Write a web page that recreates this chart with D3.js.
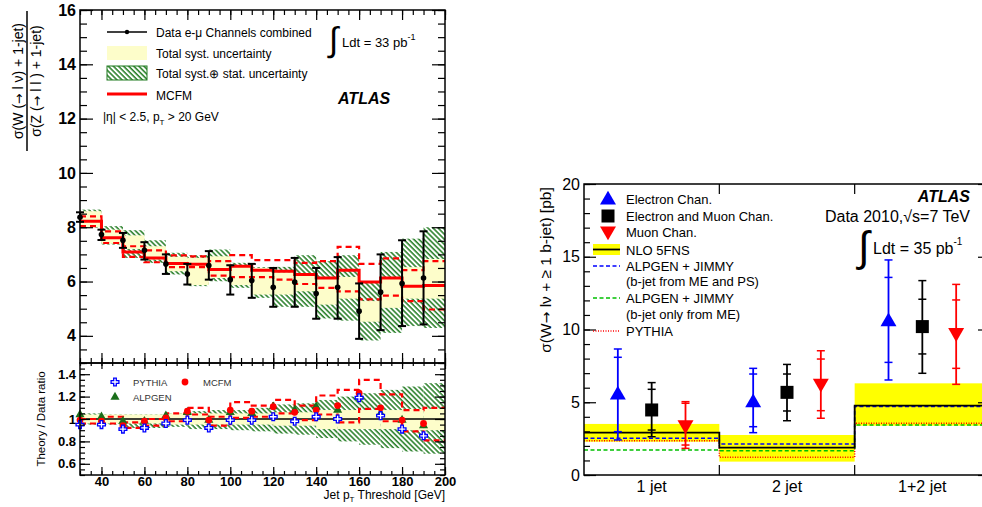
<!DOCTYPE html>
<html>
<head>
<meta charset="utf-8">
<script src="https://cdn.jsdelivr.net/npm/d3@7"></script>
<style>
  body { margin: 0; background: #fff; }
  text { font-family: "Liberation Sans", Arial, Helvetica, sans-serif; }
</style>
</head>
<body>
<svg id="chart" width="982" height="507"></svg>
<script>
// ---------- left panel : W/Z ratio vs jet pT threshold ----------
var thresholds = [30,40,50,60,70,80,90,100,110,120,130,140,150,160,170,180,190];
var dataVal  = [8.37,7.73,7.52,7.15,6.65,6.28,6.59,6.07,6.04,5.79,5.98,5.56,5.79,4.91,5.61,5.93,6.13];
var dataHi   = [8.55,7.91,7.79,7.45,7.00,6.65,7.12,6.60,6.65,6.50,6.87,6.50,6.90,5.93,7.00,7.52,7.85];
var dataLo   = [8.20,7.53,7.24,6.81,6.28,5.89,6.07,5.52,5.40,5.07,5.07,4.63,4.63,3.89,4.21,4.36,4.42];
var mcfm     = [8.22,7.61,7.09,6.87,6.66,6.64,6.44,6.56,6.42,6.38,6.26,6.13,6.42,5.98,6.13,5.83,5.85];
var mcfmUp   = [8.40,7.85,7.30,7.15,6.96,6.93,6.75,6.97,6.79,6.79,6.69,6.75,7.28,6.65,6.85,6.42,6.75];
var mcfmDn   = [8.04,7.42,6.91,6.71,6.53,6.53,6.22,6.16,6.16,6.07,5.91,5.77,5.64,5.34,5.48,5.28,4.97];
var sysHi    = [8.59,7.91,7.70,7.30,6.91,6.87,6.93,6.56,6.50,6.34,6.26,6.17,6.17,5.28,6.11,6.53,6.83];
var sysLo    = [8.00,7.39,7.20,6.81,6.38,5.87,6.13,5.87,5.52,5.52,5.64,5.15,5.37,4.52,5.03,5.37,5.37];
var totHi    = [8.65,8.04,7.89,7.52,7.06,6.97,7.18,6.69,6.53,6.54,6.97,6.75,6.97,5.95,7.09,7.58,8.00];
var totLo    = [7.98,7.36,6.87,6.69,6.26,5.83,6.01,5.77,5.40,5.07,5.07,4.64,4.56,3.83,4.11,4.36,4.29];

// ratio pad
var ratioPythia = [0.95,0.95,0.91,0.92,0.96,0.99,0.92,0.99,0.99,1.02,0.98,1.02,1.00,1.19,1.03,0.91,0.85];
var ratioMcfm   = [0.99,0.98,0.94,0.98,1.01,1.07,0.99,1.08,1.07,1.11,1.06,1.08,1.12,1.23,1.10,0.99,0.96];
var ratioAlpgen = [1.04,1.02,0.98,0.98,1.03,1.06,0.99,1.06,1.05,1.11,1.08,1.11,1.08,1.20,1.05,0.99,0.94];
var ratioMcfmUp = [1.00,1.02,0.97,1.00,1.05,1.10,1.02,1.15,1.12,1.17,1.12,1.21,1.26,1.35,1.22,1.08,1.10];
var ratioMcfmDn = [0.96,0.96,0.92,0.94,0.98,1.04,0.94,1.01,1.02,1.05,0.99,1.04,0.97,1.09,0.98,0.89,0.81];
var ratioTotHi  = [1.05,1.04,1.04,1.04,1.05,1.07,1.08,1.08,1.10,1.13,1.14,1.17,1.20,1.23,1.26,1.29,1.32];
var ratioTotLo  = [0.95,0.95,0.92,0.92,0.93,0.91,0.91,0.90,0.89,0.87,0.86,0.83,0.80,0.77,0.74,0.71,0.69];
var ratioSysHi  = [1.04,1.04,1.04,1.04,1.05,1.05,1.05,1.05,1.05,1.06,1.06,1.08,1.08,1.08,1.08,1.09,1.09];
var ratioSysLo  = [0.96,0.96,0.96,0.96,0.95,0.95,0.95,0.95,0.95,0.94,0.94,0.91,0.91,0.91,0.91,0.90,0.90];

var binWidth = 10;
var xTickLabels = [40,60,80,100,120,140,160,180,200];
var yTopLabels = [4,6,8,10,12,14,16];
var yRatioLabels = [0.6,0.8,1.0,1.2,1.4];

// ---------- right panel : W + b-jet cross section ----------
var cats = ['1 jet','2 jet','1+2 jet'];
var elVal = [5.50,4.97,10.54], elStatHi = [8.09,6.94,13.58], elStatLo = [2.98,3.32,7.74], elTotHi = [8.66,7.33,14.78], elTotLo = [2.41,2.91,6.53];
var coVal = [4.47,5.68,10.20], coStatHi = [5.89,6.94,12.08], coStatLo = [3.09,4.40,8.32], coTotHi = [6.35,7.60,13.36], coTotLo = [2.63,3.73,6.99];
var muVal = [3.44,6.30,9.78],  muStatHi = [4.93,7.97,12.03], muStatLo = [2.06,4.42,7.33], muTotHi = [5.04,8.54,13.10], muTotLo = [1.83,3.90,6.23];
var nlo = [2.91,1.88,4.77], nloHi = [3.51,2.75,6.30], nloLo = [2.29,0.92,3.39];
var alpMEPS = [2.52,2.13,4.70];
var alpME = [1.72,1.67,3.44];
var pythia = [2.36,1.22,3.55];
var yRightLabels = [0,5,10,15,20];

/*************************************************************************/

var svg = d3.select('#chart');
var defs = svg.append('defs');
var pat = defs.append('pattern').attr('id','hatch').attr('patternUnits','userSpaceOnUse')
    .attr('width',3.6).attr('height',3.6).attr('patternTransform','rotate(-45)');
pat.append('rect').attr('width',3.6).attr('height',3.6).attr('fill','#fff');
pat.append('line').attr('x1',1).attr('y1',-1).attr('x2',1).attr('y2',5).attr('stroke','#1f7a1f').attr('stroke-width',1.5);

var x = d3.scaleLinear().domain([30,200]).range([80,445]);
var yTop = d3.scaleLinear().domain([3,16]).range([363,10]);
var yRat = d3.scaleLinear().domain([0.5,1.5]).range([475,363]);

defs.append('clipPath').attr('id','clipTop').append('rect').attr('x',80).attr('y',10).attr('width',365).attr('height',353);
defs.append('clipPath').attr('id','clipRat').append('rect').attr('x',80).attr('y',363).attr('width',365).attr('height',112);

function ticks(axisGen, scale, vals, size, transform, fmt){
    var g = svg.append('g').attr('transform', transform)
        .call(axisGen(scale).tickValues(vals).tickSize(size).tickPadding(4).tickFormat(fmt || (function(){ return ''; })));
    g.select('.domain').remove();
    g.selectAll('line').attr('stroke','#000').attr('stroke-width',1.2);
    return g;
}

function stepPoints(vals, xs, xEnd){
    var pts = vals.map(function(v,i){ return [xs[i], v]; });
    pts.push([xEnd, vals[vals.length-1]]);
    return pts;
}

// text with arrows drawn in a font that has them at full size
function richText(sel, parts){
    parts.forEach(function(p){
        var t = sel.append('tspan').text(p);
        if(p === '→') t.attr('font-family','DejaVu Sans').attr('font-size','0.9em');
    });
}

// ----- top pad -----
var topPad = svg.append('g').attr('clip-path','url(#clipTop)');
topPad.selectAll('.tot').data(thresholds).enter().append('rect')
    .attr('x', function(d){ return x(d); }).attr('width', function(d){ return x(d+binWidth)-x(d); })
    .attr('y', function(d,i){ return yTop(totHi[i]); }).attr('height', function(d,i){ return yTop(totLo[i])-yTop(totHi[i]); })
    .attr('fill','url(#hatch)');
topPad.selectAll('.sys').data(thresholds).enter().append('rect')
    .attr('x', function(d){ return x(d); }).attr('width', function(d){ return x(d+binWidth)-x(d); })
    .attr('y', function(d,i){ return yTop(sysHi[i]); }).attr('height', function(d,i){ return yTop(sysLo[i])-yTop(sysHi[i]); })
    .attr('fill','#fdfdca');

var lineTop = d3.line().x(function(d){ return x(d[0]); }).y(function(d){ return yTop(d[1]); }).curve(d3.curveStepAfter);
[mcfmUp, mcfmDn].forEach(function(arr){
    topPad.append('path').attr('d', lineTop(stepPoints(arr, thresholds, 200)))
        .attr('fill','none').attr('stroke','#ff0000').attr('stroke-width',2.2).attr('stroke-dasharray','6,4');
});
topPad.append('path').attr('d', lineTop(stepPoints(mcfm, thresholds, 200)))
    .attr('fill','none').attr('stroke','#ff0000').attr('stroke-width',3);

var errs = svg.append('g');
thresholds.forEach(function(t,i){
    var cx = x(t);
    errs.append('line').attr('x1',cx).attr('x2',cx).attr('y1',yTop(dataHi[i])).attr('y2',yTop(dataLo[i])).attr('stroke','#000').attr('stroke-width',2);
    [dataHi[i], dataLo[i]].forEach(function(v){
        errs.append('line').attr('x1',cx-4).attr('x2',cx+4).attr('y1',yTop(v)).attr('y2',yTop(v)).attr('stroke','#000').attr('stroke-width',2);
    });
    errs.append('circle').attr('cx',cx).attr('cy',yTop(dataVal[i])).attr('r',2.8).attr('fill','#000');
});

// ----- ratio pad -----
var rat = svg.append('g').attr('clip-path','url(#clipRat)');
rat.selectAll('.tot').data(thresholds).enter().append('rect')
    .attr('x', function(d){ return x(d); }).attr('width', function(d){ return x(d+binWidth)-x(d); })
    .attr('y', function(d,i){ return yRat(ratioTotHi[i]); }).attr('height', function(d,i){ return yRat(ratioTotLo[i])-yRat(ratioTotHi[i]); })
    .attr('fill','url(#hatch)');
rat.selectAll('.sys').data(thresholds).enter().append('rect')
    .attr('x', function(d){ return x(d); }).attr('width', function(d){ return x(d+binWidth)-x(d); })
    .attr('y', function(d,i){ return yRat(ratioSysHi[i]); }).attr('height', function(d,i){ return yRat(ratioSysLo[i])-yRat(ratioSysHi[i]); })
    .attr('fill','#fdfdca');
rat.append('line').attr('x1',x(30)).attr('x2',x(200)).attr('y1',yRat(1)).attr('y2',yRat(1)).attr('stroke','#000').attr('stroke-width',1.5);
var lineRat = d3.line().x(function(d){ return x(d[0]); }).y(function(d){ return yRat(d[1]); }).curve(d3.curveStepAfter);
[ratioMcfmUp, ratioMcfmDn].forEach(function(arr){
    rat.append('path').attr('d', lineRat(stepPoints(arr, thresholds, 200)))
        .attr('fill','none').attr('stroke','#ff0000').attr('stroke-width',2.2).attr('stroke-dasharray','6,4');
});

var marks = svg.append('g');
var crossSym = d3.symbol(d3.symbolCross, 34)();
var triSym = d3.symbol(d3.symbolTriangle, 36)();
thresholds.forEach(function(t,i){
    marks.append('path').attr('d', triSym)
        .attr('transform','translate(' + x(t) + ',' + yRat(ratioAlpgen[i]) + ')').attr('fill','#1a6e1a');
    marks.append('circle').attr('cx',x(t)).attr('cy',yRat(ratioMcfm[i])).attr('r',3.4).attr('fill','#ff0000');
    marks.append('path').attr('d', crossSym)
        .attr('transform','translate(' + x(t) + ',' + yRat(ratioPythia[i]) + ')')
        .attr('fill','#fff').attr('stroke','#0000ff').attr('stroke-width',1.3);
});

// ----- left axes -----
var majX = xTickLabels.slice();
var minX = d3.range(30,201,5);
ticks(d3.axisTop, x, minX, -5, 'translate(0,10)');
ticks(d3.axisTop, x, majX, -10, 'translate(0,10)');
ticks(d3.axisBottom, x, minX, -5, 'translate(0,363)');
ticks(d3.axisBottom, x, majX, -10, 'translate(0,363)');
ticks(d3.axisTop, x, minX, -3, 'translate(0,363)');
ticks(d3.axisTop, x, majX, -6, 'translate(0,363)');
ticks(d3.axisBottom, x, minX, -4, 'translate(0,475)');
var xl = ticks(d3.axisBottom, x, majX, -8, 'translate(0,475)', d3.format('d'));
xl.selectAll('text').attr('y',1.5).attr('font-size',13).attr('font-weight','bold').attr('fill','#000');

var minYT = d3.range(6,33).map(function(d){ return d/2; });
ticks(d3.axisLeft, yTop, minYT, -7, 'translate(80,0)');
var ytl = ticks(d3.axisLeft, yTop, yTopLabels, -13, 'translate(80,0)', d3.format('d'));
ytl.selectAll('text').attr('font-size',16).attr('font-weight','bold').attr('fill','#000');
ticks(d3.axisRight, yTop, minYT, -7, 'translate(445,0)');
ticks(d3.axisRight, yTop, yTopLabels, -13, 'translate(445,0)');

var minYR = d3.range(10,31).map(function(d){ return d/20; });
ticks(d3.axisLeft, yRat, minYR, -5, 'translate(80,0)');
var yrl = ticks(d3.axisLeft, yRat, yRatioLabels, -10, 'translate(80,0)', function(d){ return d === 1 ? '1' : d3.format('.1f')(d); });
yrl.selectAll('text').attr('font-size',13).attr('font-weight','bold').attr('fill','#000');
ticks(d3.axisRight, yRat, minYR, -5, 'translate(445,0)');
ticks(d3.axisRight, yRat, yRatioLabels, -10, 'translate(445,0)');

svg.append('rect').attr('x',80).attr('y',10).attr('width',365).attr('height',353).attr('fill','none').attr('stroke','#000').attr('stroke-width',1.5);
svg.append('rect').attr('x',80).attr('y',363).attr('width',365).attr('height',112).attr('fill','none').attr('stroke','#000').attr('stroke-width',1.5);

// left titles
var yt = svg.append('g').attr('transform','translate(27,81) rotate(-90)');
richText(yt.append('text').attr('x',0).attr('y',-4).attr('text-anchor','middle').attr('font-size',14), ['σ(W (', '→', ' l ν) + 1-jet)']);
yt.append('line').attr('x1',-70).attr('x2',70).attr('y1',0).attr('y2',0).attr('stroke','#000').attr('stroke-width',1.5);
richText(yt.append('text').attr('x',0).attr('y',14).attr('text-anchor','middle').attr('font-size',14), ['σ(Z (', '→', ' l l ) + 1-jet)']);
svg.append('text').attr('transform','translate(45,419) rotate(-90)').attr('text-anchor','middle').attr('font-size',11.5).text('Theory / Data ratio');
var xt = svg.append('text').attr('x',445).attr('y',499).attr('text-anchor','end').attr('font-size',12);
xt.append('tspan').text('Jet p');
xt.append('tspan').attr('font-size',8).attr('dy',3).text('T');
xt.append('tspan').attr('dy',-3).text(' Threshold [GeV]');

// left legend
var lg = svg.append('g');
lg.append('line').attr('x1',107).attr('x2',147).attr('y1',32).attr('y2',32).attr('stroke','#000').attr('stroke-width',1.5);
lg.append('circle').attr('cx',127).attr('cy',32).attr('r',2.2).attr('fill','#000');
lg.append('rect').attr('x',107).attr('y',46).attr('width',40).attr('height',14).attr('fill','#fdfdca');
lg.append('rect').attr('x',107).attr('y',66).attr('width',40).attr('height',14).attr('fill','url(#hatch)').attr('stroke','#1f7a1f').attr('stroke-width',1);
lg.append('line').attr('x1',107).attr('x2',147).attr('y1',94).attr('y2',94).attr('stroke','#ff0000').attr('stroke-width',3);
var lgText = ['Data e-μ Channels combined','Total syst. uncertainty','Total syst.⊕ stat. uncertainty','MCFM'];
[32,53,73,95].forEach(function(yy,i){
    lg.append('text').attr('x',156).attr('y',yy+4.5).attr('font-size',12).text(lgText[i]);
});
var eta = lg.append('text').attr('x',103).attr('y',121).attr('font-size',12);
eta.append('tspan').text('|η| < 2.5, p');
eta.append('tspan').attr('font-size',8).attr('dy',4).text('T');
eta.append('tspan').attr('dy',-4).text(' > 20 GeV');
lg.append('text').attr('x',329).attr('y',51).attr('font-size',34).attr('font-family','DejaVu Sans').text('∫');
var ldt = lg.append('text').attr('x',342).attr('y',47).attr('font-size',13);
ldt.append('tspan').text('Ldt = 33 pb');
ldt.append('tspan').attr('font-size',9).attr('dy',-7).text('-1');
lg.append('text').attr('x',338).attr('y',104).attr('font-size',16).attr('font-weight','bold').attr('font-style','italic').text('ATLAS');
ratLegend();

function ratLegend(){
    var g = svg.append('g');
    g.append('path').attr('d', crossSym).attr('transform','translate(115,382)')
        .attr('fill','#fff').attr('stroke','#0000ff').attr('stroke-width',1.3);
    g.append('text').attr('x',133).attr('y',385.5).attr('font-size',9.5).attr('fill','#333').text('PYTHIA');
    g.append('circle').attr('cx',185).attr('cy',382).attr('r',3.4).attr('fill','#ff0000');
    g.append('text').attr('x',203).attr('y',385.5).attr('font-size',9.5).attr('fill','#333').text('MCFM');
    g.append('path').attr('d', triSym).attr('transform','translate(115,397)').attr('fill','#1a6e1a');
    g.append('text').attr('x',133).attr('y',400.5).attr('font-size',9.5).attr('fill','#333').text('ALPGEN');
}

/*************************************************************************/
// ---------- right panel ----------
var xR = d3.scaleBand().domain(cats).range([584,990]).padding(0);
var yR = d3.scaleLinear().domain([0,20]).range([475,184]);
defs.append('clipPath').attr('id','clipR').append('rect').attr('x',584).attr('y',184).attr('width',406).attr('height',291);

var rp = svg.append('g').attr('clip-path','url(#clipR)');
rp.selectAll('.nloband').data(cats).enter().append('rect')
    .attr('x', function(d){ return xR(d); }).attr('width', xR.bandwidth())
    .attr('y', function(d,i){ return yR(nloHi[i]); }).attr('height', function(d,i){ return yR(nloLo[i])-yR(nloHi[i]); })
    .attr('fill','#ffff00');
var lineR = d3.line().x(function(d){ return d[0]; }).y(function(d){ return yR(d[1]); }).curve(d3.curveStepAfter);
var xStarts = cats.map(function(c){ return xR(c); });
rp.append('path').attr('d', lineR(stepPoints(pythia, xStarts, 990))).attr('fill','none').attr('stroke','#ff0000').attr('stroke-width',1.5).attr('stroke-dasharray','1,1.5');
rp.append('path').attr('d', lineR(stepPoints(alpME, xStarts, 990))).attr('fill','none').attr('stroke','#00c000').attr('stroke-width',1.5).attr('stroke-dasharray','4,2.5');
rp.append('path').attr('d', lineR(stepPoints(alpMEPS, xStarts, 990))).attr('fill','none').attr('stroke','#0000ff').attr('stroke-width',1.5).attr('stroke-dasharray','4,2.5');
rp.append('path').attr('d', lineR(stepPoints(nlo, xStarts, 990))).attr('fill','none').attr('stroke','#000').attr('stroke-width',1.8);

function measSeries(frac, val, sHi, sLo, tHi, tLo, color, sym){
    cats.forEach(function(c,i){
        var cx = xR(c) + xR.bandwidth()*frac;
        rp.append('line').attr('x1',cx).attr('x2',cx).attr('y1',yR(tHi[i])).attr('y2',yR(tLo[i])).attr('stroke',color).attr('stroke-width',1.8);
        [tHi[i], tLo[i], sHi[i], sLo[i]].forEach(function(v){
            rp.append('line').attr('x1',cx-4).attr('x2',cx+4).attr('y1',yR(v)).attr('y2',yR(v)).attr('stroke',color).attr('stroke-width',1.5);
        });
        sym(cx, yR(val[i]));
    });
}
function upTri(g, cx, cy, color){
    g.append('path').attr('d', d3.symbol(d3.symbolTriangle, 110)()).attr('transform','translate(' + cx + ',' + cy + ')').attr('fill',color);
}
function dnTri(g, cx, cy, color){
    g.append('path').attr('d', d3.symbol(d3.symbolTriangle, 110)()).attr('transform','translate(' + cx + ',' + cy + ') rotate(180)').attr('fill',color);
}
function square(g, cx, cy){
    g.append('rect').attr('x',cx-6.5).attr('y',cy-6.5).attr('width',13).attr('height',13).attr('fill','#000');
}
measSeries(0.25, elVal, elStatHi, elStatLo, elTotHi, elTotLo, '#0000ff', function(cx,cy){ upTri(rp,cx,cy,'#0000ff'); });
measSeries(0.5, coVal, coStatHi, coStatLo, coTotHi, coTotLo, '#000', function(cx,cy){ square(rp,cx,cy); });
measSeries(0.75, muVal, muStatHi, muStatLo, muTotHi, muTotLo, '#ff0000', function(cx,cy){ dnTri(rp,cx,cy,'#ff0000'); });

// right axes
var minYRt = d3.range(0,21);
ticks(d3.axisLeft, yR, minYRt, -6, 'translate(584,0)');
var yrr = ticks(d3.axisLeft, yR, yRightLabels, -12, 'translate(584,0)', d3.format('d'));
yrr.selectAll('text').attr('font-size',16).attr('fill','#000').attr('x',-4);
ticks(d3.axisRight, yR, minYRt, -6, 'translate(990,0)');
ticks(d3.axisRight, yR, yRightLabels, -12, 'translate(990,0)');
var bounds = [xR('2 jet'), xR('1+2 jet')];
bounds.forEach(function(b){
    svg.append('line').attr('x1',b).attr('x2',b).attr('y1',475).attr('y2',465).attr('stroke','#000').attr('stroke-width',1.2);
    svg.append('line').attr('x1',b).attr('x2',b).attr('y1',184).attr('y2',194).attr('stroke','#000').attr('stroke-width',1.2);
});
cats.forEach(function(c){
    svg.append('text').attr('x', xR(c) + xR.bandwidth()/2).attr('y',492).attr('text-anchor','middle').attr('font-size',16).text(c);
});
svg.append('rect').attr('x',584).attr('y',184).attr('width',406).attr('height',291).attr('fill','none').attr('stroke','#000').attr('stroke-width',1.5);
richText(svg.append('text').attr('transform','translate(551,270) rotate(-90)').attr('text-anchor','middle').attr('font-size',15.5),
    ['σ(W', '→', ' lν + ≥ 1 b-jet) [pb]']);

// right legend
var rl = svg.append('g');
upTri(rl, 608, 200, '#0000ff');
square(rl, 608, 216);
dnTri(rl, 608, 231, '#ff0000');
rl.append('rect').attr('x',593).attr('y',244).attr('width',27).attr('height',11).attr('fill','#ffff00');
rl.append('line').attr('x1',593).attr('x2',620).attr('y1',249.5).attr('y2',249.5).attr('stroke','#000').attr('stroke-width',1.8);
rl.append('line').attr('x1',593).attr('x2',620).attr('y1',266).attr('y2',266).attr('stroke','#0000ff').attr('stroke-width',1.5).attr('stroke-dasharray','4,2.5');
rl.append('line').attr('x1',593).attr('x2',620).attr('y1',298).attr('y2',298).attr('stroke','#00c000').attr('stroke-width',1.5).attr('stroke-dasharray','4,2.5');
rl.append('line').attr('x1',593).attr('x2',620).attr('y1',331).attr('y2',331).attr('stroke','#ff0000').attr('stroke-width',1.5).attr('stroke-dasharray','1,1.5');
var rlText = ['Electron Chan.','Electron and Muon Chan.','Muon Chan.','NLO 5FNS','ALPGEN + JIMMY','(b-jet from ME and PS)','ALPGEN + JIMMY','(b-jet only from ME)','PYTHIA'];
var rlY = [199,215.5,231.5,249.5,265.5,281,297.5,314,331];
rlText.forEach(function(t,i){
    rl.append('text').attr('x',626).attr('y',rlY[i]+5).attr('font-size',13).text(t);
});
rl.append('text').attr('x',970).attr('y',202).attr('text-anchor','end').attr('font-size',16).attr('font-weight','bold').attr('font-style','italic').text('ATLAS');
rl.append('text').attr('x',970).attr('y',222).attr('text-anchor','end').attr('font-size',16).text('Data 2010,√s=7 TeV');
rl.append('text').attr('x',858).attr('y',261).attr('font-size',42).attr('font-family','DejaVu Sans').text('∫');
var ldt2 = rl.append('text').attr('x',873).attr('y',254).attr('font-size',16);
ldt2.append('tspan').text('Ldt = 35 pb');
ldt2.append('tspan').attr('font-size',10).attr('dy',-9).text('-1');
</script>
</body>
</html>
